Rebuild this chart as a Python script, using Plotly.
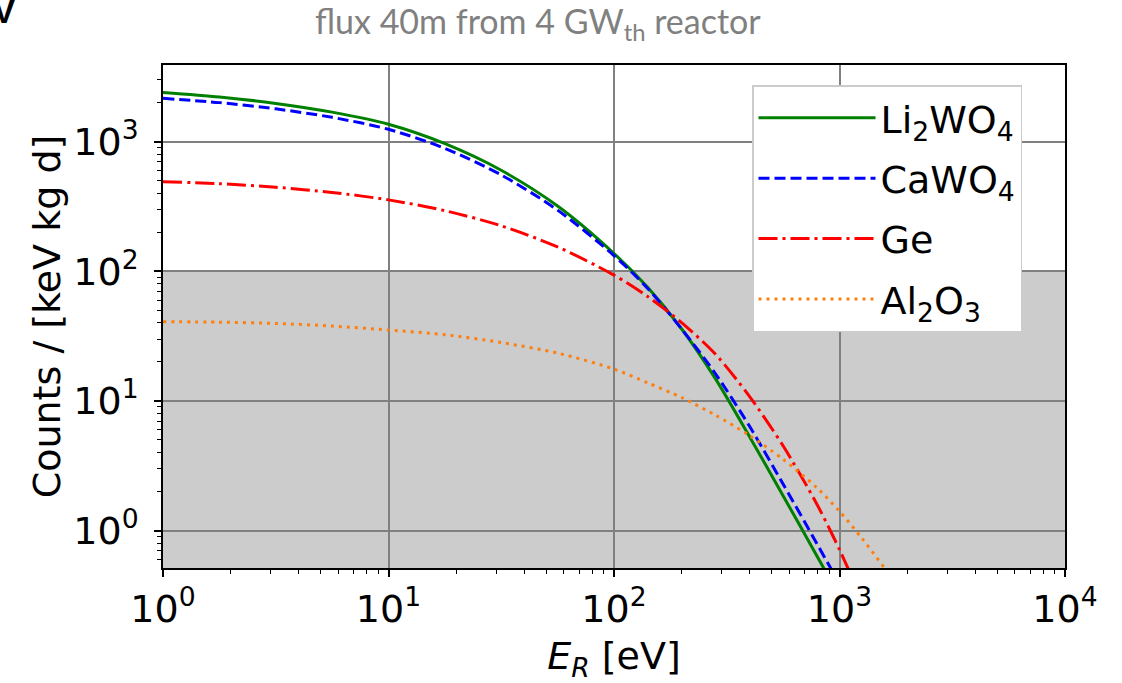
import plotly.graph_objects as go

# ---- data (E_R in eV, counts / [keV kg d]) ----
li2wo4_x = [1, 1.78, 3.16, 5.62, 10, 17.8, 31.6, 56.2, 100, 141, 200, 282, 398, 562, 794, 933]
li2wo4_y = [2393, 2208, 1968, 1685, 1358, 962, 600, 318, 137, 75.1, 35.7, 14.8, 5.35, 1.86, 0.638, 0.387]

cawo4_x = [1, 1.78, 3.16, 5.62, 10, 17.8, 31.6, 56.2, 100, 141, 200, 282, 398, 562, 794, 1000]
cawo4_y = [2153, 1995, 1786, 1537, 1242, 885, 553, 296, 132, 73.7, 35.7, 16.2, 6.43, 2.29, 0.794, 0.389]

ge_x = [1, 1.78, 3.16, 5.62, 10, 17.8, 31.6, 56.2, 100, 141, 200, 282, 398, 562, 794, 1000, 1175]
ge_y = [490, 473, 444, 405, 355, 293, 224, 154, 93.3, 63.8, 40.0, 22.9, 10.9, 4.51, 1.60, 0.715, 0.381]

al2o3_x = [1, 1.78, 3.16, 5.62, 10, 17.8, 31.6, 56.2, 100, 141, 200, 282, 398, 562, 794, 1000, 1259, 1585, 1778]
al2o3_y = [40.8, 40.5, 39.6, 37.8, 35.2, 32.4, 28.2, 23.4, 17.6, 13.8, 10.6, 7.76, 5.43, 3.55, 2.14, 1.41, 0.871, 0.513, 0.389]

series_names = ["Li<sub>2</sub>WO<sub>4</sub>", "CaWO<sub>4</sub>", "Ge", "Al<sub>2</sub>O<sub>3</sub>"]
series_colors = ["#008000", "#0000ff", "#ff0000", "#ff7f0e"]
series_dash = ["solid", "11px,5px", "19px,5px,3px,5px", "3px,5px"]

x_ticks = [1, 10, 100, 1000, 10000]
x_ticktext = ["10<sup>0</sup>", "10<sup>1</sup>", "10<sup>2</sup>", "10<sup>3</sup>", "10<sup>4</sup>"]
y_ticks = [1, 10, 100, 1000]
y_ticktext = ["10<sup>0</sup>", "10<sup>1</sup>", "10<sup>2</sup>", "10<sup>3</sup>"]
threshold = 100  # shaded region below this count rate

x_range = [0, 4]
y_range = [-0.288, 3.59]

FONT = "DejaVu Sans"
FS = 38

fig = go.Figure()
data = [(li2wo4_x, li2wo4_y), (cawo4_x, cawo4_y), (ge_x, ge_y), (al2o3_x, al2o3_y)]
for i, (xs, ys) in enumerate(data):
    fig.add_trace(go.Scatter(
        x=xs, y=ys, mode="lines", name=series_names[i],
        line=dict(color=series_colors[i], width=3, dash=series_dash[i], shape="spline", smoothing=0.8),
        legendgroup=f"g{i}",
    ))

# grey shaded band below threshold
fig.add_shape(type="rect", xref="x domain", yref="y", x0=0, x1=1,
              y0=0.1, y1=threshold,
              fillcolor="#cccccc", line=dict(width=0), layer="below")

minor_x = [m * 10 ** d for d in range(0, 4) for m in range(2, 10)]
minor_y = [m * 10 ** d for d in range(-1, 4) for m in range(2, 10)]

axis_common = dict(
    type="log", showline=True, linecolor="black", linewidth=1.5, mirror=True,
    ticks="outside", ticklen=7, tickwidth=1.5, tickcolor="black",
    showgrid=True, gridcolor="#808080", gridwidth=1.5, zeroline=False,
    tickfont=dict(family=FONT, size=FS, color="black"),
)

fig.update_xaxes(
    **axis_common, range=x_range, tickmode="array", tickvals=x_ticks, ticktext=x_ticktext,
    minor=dict(tickmode="array", tickvals=minor_x, ticks="outside", ticklen=4, tickwidth=1, tickcolor="black", showgrid=False),
    title=dict(text="<i>E<sub>R</sub></i> [eV]", font=dict(family=FONT, size=FS, color="black"), standoff=14),
)
fig.update_yaxes(
    **axis_common, range=y_range, tickmode="array", tickvals=y_ticks, ticktext=y_ticktext,
    ticklabelstandoff=8,
    minor=dict(tickmode="array", tickvals=minor_y, ticks="outside", ticklen=4, tickwidth=1, tickcolor="black", showgrid=False),
    title=dict(text="Counts / [keV kg d]", font=dict(family=FONT, size=FS, color="black"), standoff=1),
)

fig.update_layout(
    width=1122, height=683,
    margin=dict(l=163, r=57, t=65, b=115),
    paper_bgcolor="white", plot_bgcolor="white",
    showlegend=True,
    legend=dict(
        x=0.653, y=0.96, xanchor="left", yanchor="top",
        bgcolor="white", bordercolor="#cccccc", borderwidth=1.5,
        font=dict(family=FONT, size=FS, color="black"),
        tracegroupgap=8, traceorder="grouped", itemwidth=117,
    ),
    annotations=[
        dict(text="flux 40m from 4 GW<sub>th</sub> reactor", xref="paper", yref="paper",
             x=0.416, y=1.0, xanchor="center", yanchor="bottom", yshift=17, showarrow=False,
             font=dict(family="Lato", size=34, color="#808080")),
        dict(text="<b>V</b>", xref="paper", yref="paper", x=-0.1763, y=1.0, xanchor="center",
             yanchor="bottom", yshift=33, showarrow=False,
             font=dict(family="Liberation Sans", size=33, color="black")),
    ],
)

fig.write_html("out.html")
